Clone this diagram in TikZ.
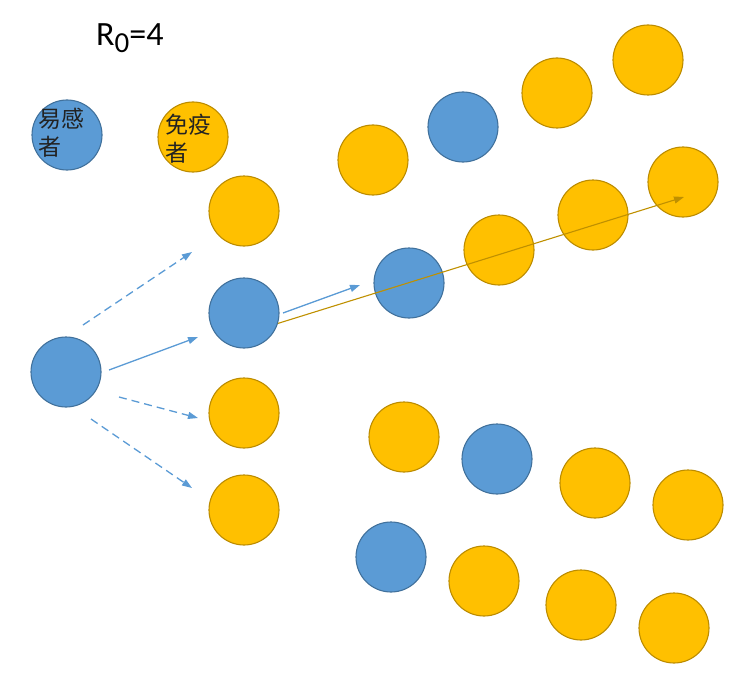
\documentclass[tikz,border=0pt]{standalone}
\usepackage{fontspec}
\setmainfont{Carlito}
\newfontfamily\cjk{Noto Sans CJK SC}
\usetikzlibrary{arrows.meta}
\definecolor{bfill}{HTML}{5B9BD5}
\definecolor{bdraw}{HTML}{41719C}
\definecolor{yfill}{HTML}{FFC000}
\definecolor{ydraw}{HTML}{BC8C00}
\definecolor{gline}{HTML}{BF9000}
\definecolor{ltxt}{HTML}{222222}
\tikzset{
  dot/.style={circle, minimum size=70pt, inner sep=0pt, line width=1.1pt},
  sus/.style={dot, fill=bfill, draw=bdraw},
  imm/.style={dot, fill=yfill, draw=ydraw},
  barrow/.style={draw=bfill, line width=1.3pt, -{Triangle[length=10pt,width=7pt]}},
  bdash/.style={barrow, dash pattern=on 8pt off 5pt},
  garrow/.style={draw=gline, line width=1.1pt, -{Triangle[length=10pt,width=7pt]}},
  legtxt/.style={font=\cjk\fontsize{23}{28}\selectfont, text=ltxt, align=left, inner sep=0pt}
}
\begin{document}
\begin{tikzpicture}[x=1pt,y=-1pt]
\useasboundingbox (0,0) rectangle (749,674);
% title
\node[anchor=base west, inner sep=0pt, font=\fontsize{34}{34}\selectfont] (title) at (96,46)
  {R{\fontsize{29}{29}\selectfont\raisebox{-7pt}{0}}=4};
% legend
\node[sus] (lsus) at (67,135) {};
\node[imm] (limm) at (193,137) {};
\node[legtxt] (lsust) at (61.5,133) {易感\\者};
\node[legtxt] (limmt) at (188.5,139) {免疫\\者};
% source
\node[sus] (src) at (66,372) {};
% column
\node[imm] (c1) at (244,211) {};
\node[sus] (c2) at (244,313) {};
\node[imm] (c3) at (244,413) {};
\node[imm] (c4) at (244,510) {};
% top row
\node[imm] (t1) at (373,160) {};
\node[sus] (t2) at (463,127) {};
\node[imm] (t3) at (557,93) {};
\node[imm] (t4) at (648,60) {};
% middle row
\node[sus] (m1) at (409,283) {};
\node[imm] (m2) at (499,250) {};
\node[imm] (m3) at (593,215) {};
\node[imm] (m4) at (683,182) {};
% lower rows
\node[imm] (l1) at (404,437) {};
\node[sus] (l2) at (497,459) {};
\node[imm] (l3) at (595,483) {};
\node[imm] (l4) at (688,505) {};
\node[sus] (k1) at (391,557) {};
\node[imm] (k2) at (484,581) {};
\node[imm] (k3) at (581,605) {};
\node[imm] (k4) at (674,628) {};
% arrow end points
\coordinate (e1) at (192,252);
\coordinate (e2) at (198,337);
\coordinate (e3) at (198,418);
\coordinate (e4) at (192,488);
\coordinate (s1) at (83,325);
\coordinate (s2) at (109,370);
\coordinate (s3) at (119,397);
\coordinate (s4) at (91,419);
\coordinate (bs) at (283,313);
\coordinate (be) at (360,285);
\coordinate (ge) at (684,197);
\draw[bdash] (s1) -- (e1);
\draw[barrow] (s2) -- (e2);
\draw[bdash] (s3) -- (e3);
\draw[bdash] (s4) -- (e4);
\draw[barrow] (bs) -- (be);
\draw[garrow] (c2.-17) -- (ge);
\end{tikzpicture}
\end{document}
